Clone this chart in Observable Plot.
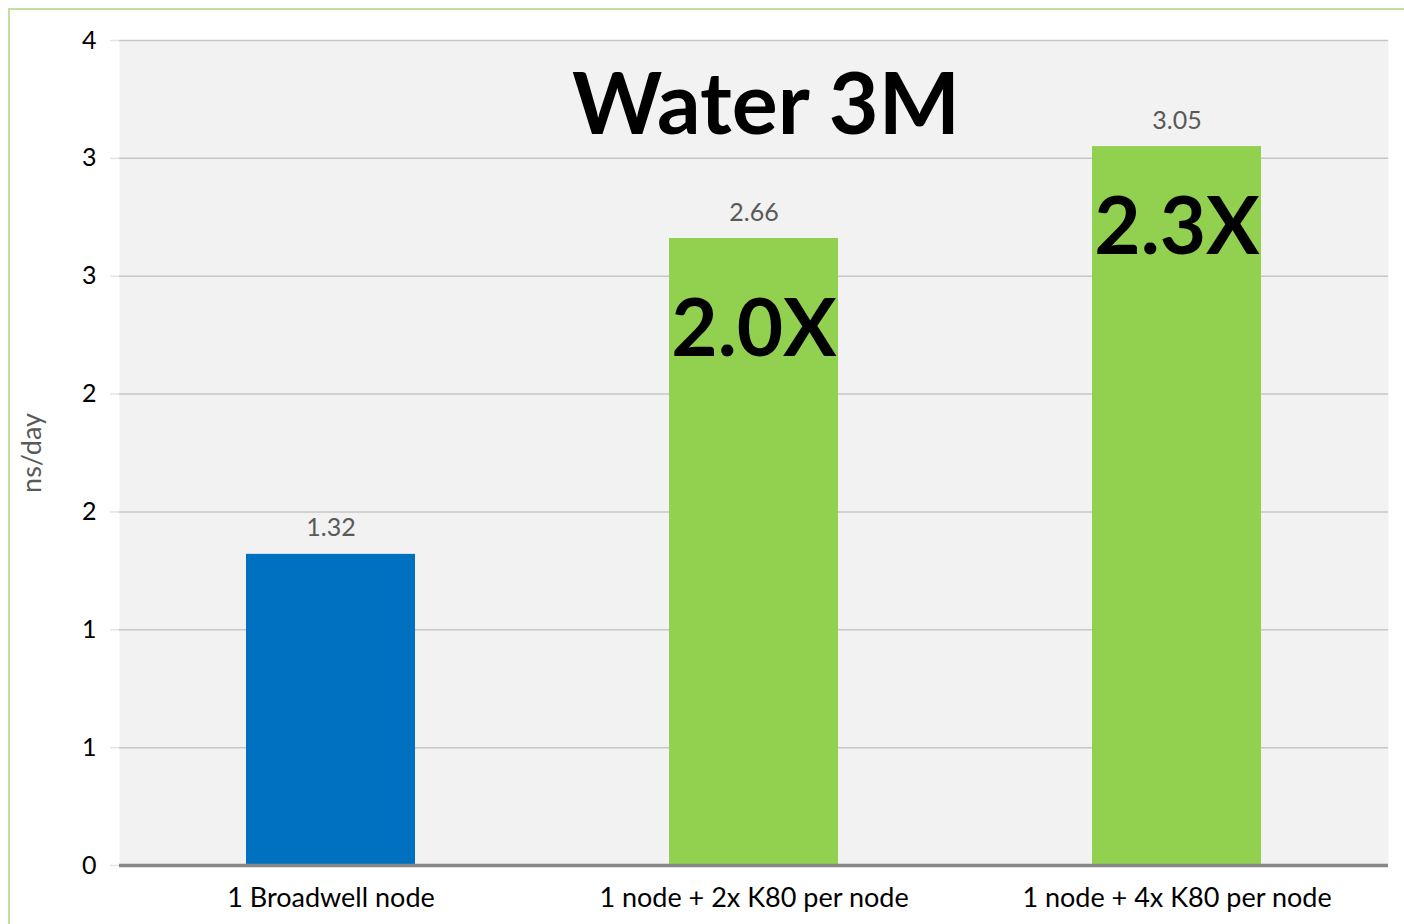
<!DOCTYPE html>
<html>
<head>
<meta charset="utf-8">
<script src="https://cdn.jsdelivr.net/npm/d3@7"></script>
<script src="https://cdn.jsdelivr.net/npm/@observablehq/plot@0.6"></script>
<style>
  html, body { margin: 0; padding: 0; background: #fff; }
  #wrap { position: relative; width: 1404px; height: 924px; overflow: hidden; }
  #border { position: absolute; left: 8px; top: 8px; right: -10px; bottom: -10px;
            border-left: 2px solid #bfe19b; border-top: 2px solid #bfe19b; pointer-events: none; }
  svg { display: block; }
</style>
</head>
<body>
<div id="wrap"><div id="border"></div></div>
<script>
const title = "Water 3M";
const yLabel = "ns/day";
const categories = ["1 Broadwell node", "1 node + 2x K80 per node", "1 node + 4x K80 per node"];
const values = [1.32, 2.66, 3.05];
const colors = ["#0070c0", "#92d050", "#92d050"];
const speedups = ["", "2.0X", "2.3X"];
const yTicks = [0, 0.5, 1, 1.5, 2, 2.5, 3, 3.5];
const yTickLabels = ["0", "1", "1", "2", "2", "3", "3", "4"];

const data = categories.map((c, i) => ({cat: c, value: values[i], color: colors[i], speedup: speedups[i]}));
const font = "Lato, 'Open Sans', sans-serif";

const chart = Plot.plot({
  width: 1404,
  height: 924,
  marginLeft: 119,
  marginRight: 16,
  marginTop: 40,
  marginBottom: 59,
  style: {fontFamily: font, background: "transparent"},
  x: {domain: categories, paddingInner: 0.6, paddingOuter: 0.3, label: null},
  y: {domain: [0, 3.5], label: null},
  marks: [
    Plot.frame({fill: "#f2f2f2", stroke: null}),
    Plot.gridY(yTicks, {stroke: "#c6c6c6", strokeOpacity: 1, strokeWidth: 1.5}),
    Plot.axisY(yTicks, {
      tickSize: 9, tickPadding: 14, stroke: "#e4e4e4", strokeWidth: 1.5,
      tickFormat: (d) => yTickLabels[yTicks.indexOf(d)],
      fontSize: 25, fill: "#000", label: null
    }),
    Plot.axisX({tickSize: 0, tickPadding: 22, fontSize: 27, fill: "#000", label: null}),
    Plot.barY(data, {x: "cat", y: "value", fill: "color"}),
    Plot.ruleY([0], {stroke: "#878787", strokeWidth: 3.5}),
    Plot.text(data, {x: "cat", y: "value", text: d => d.value.toFixed(2), dy: -26, fontSize: 25, fill: "#595959"}),
    Plot.text(data.filter(d => d.speedup === "2.0X"), {x: "cat", y: "value", text: "speedup", dy: 92, fontSize: 80, fontWeight: "bold", fill: "#000"}),
    Plot.text(data.filter(d => d.speedup === "2.3X"), {x: "cat", y: "value", text: "speedup", dy: 82, fontSize: 80, fontWeight: "bold", fill: "#000"}),
    Plot.text([title], {frameAnchor: "top", lineAnchor: "middle", dx: 12, dy: 66, text: d => d, fontSize: 86, fontWeight: "bold", fill: "#000"}),
    Plot.text([yLabel], {frameAnchor: "left", textAnchor: "middle", dx: -87, rotate: -90, text: d => d, fontSize: 27, fill: "#595959"})
  ]
});
document.getElementById("wrap").prepend(chart);
</script>
</body>
</html>
